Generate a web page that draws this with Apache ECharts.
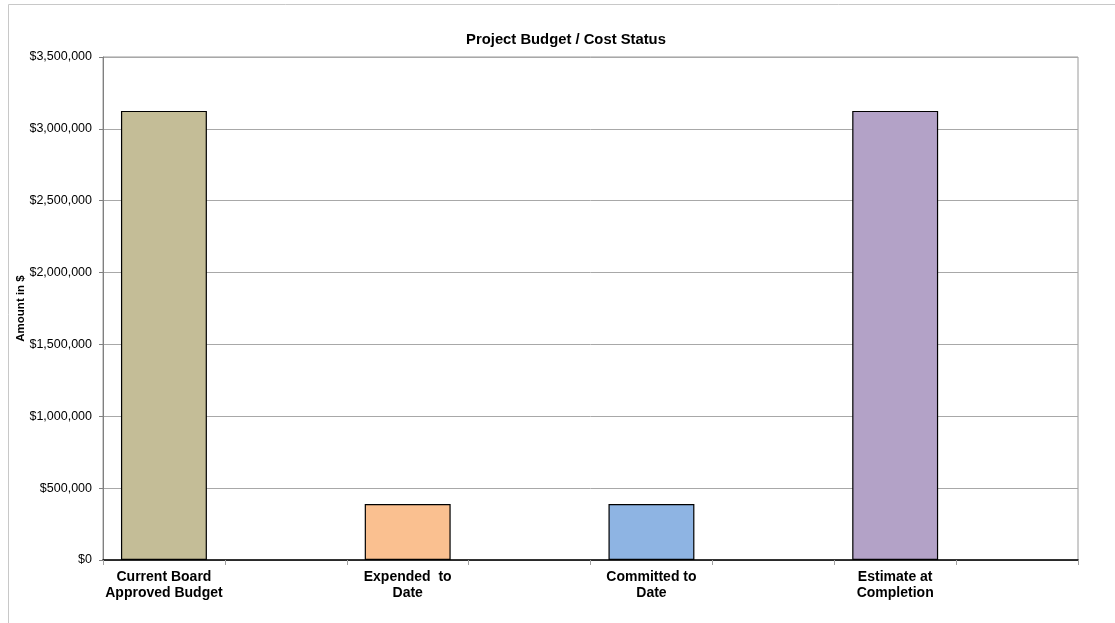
<!DOCTYPE html>
<html>
<head>
<meta charset="utf-8">
<script src="https://cdn.jsdelivr.net/npm/echarts@6/dist/echarts.min.js"></script>
<style>
html,body{margin:0;padding:0;background:#fff;}
#chart{width:1115px;height:623px;}
</style>
</head>
<body>
<div id="chart"></div>
<script>
const categories = ['Current Board\nApproved Budget', '', 'Expended  to\nDate', '', 'Committed to\nDate', '', 'Estimate at\nCompletion', ''];
const amounts = [3125000, null, 389000, null, 389000, null, 3125000, null];
const barColors = ['#C4BD97', '#ffffff', '#FAC090', '#ffffff', '#8EB4E3', '#ffffff', '#B3A2C7', '#ffffff'];
const yTicks = { min: 0, max: 3500000, interval: 500000 };

const chart = echarts.init(document.getElementById('chart'), null, { renderer: 'canvas' });
const fmt = v => '$' + v.toString().replace(/\B(?=(\d{3})+(?!\d))/g, ',');

chart.setOption({
  animation: false,
  backgroundColor: '#ffffff',
  graphic: [{
    type: 'rect', left: 6, top: 2, z: -10,
    shape: { width: 1107, height: 660 },
    style: { fill: 'none', stroke: '#c8c8c8', lineWidth: 1 }
  }],
  title: {
    text: 'Project Budget / Cost Status',
    left: 561, top: 27, textAlign: 'center',
    textStyle: { fontFamily: 'Liberation Sans, Arial', fontWeight: 'bold', fontSize: 14.8, color: '#000' }
  },
  grid: {
    left: 103, right: 37, top: 57, bottom: 63,
    show: true, borderColor: '#9a9a9a', borderWidth: 1, backgroundColor: 'transparent'
  },
  xAxis: {
    type: 'category',
    data: categories,
    axisLine: { lineStyle: { color: '#000', width: 1.5 } },
    axisTick: { show: true, interval: 0, length: 5, lineStyle: { color: '#a0a0a0' } },
    axisLabel: {
      interval: 0, margin: 9, color: '#000',
      fontFamily: 'Liberation Sans, Arial', fontWeight: 'bold', fontSize: 14, lineHeight: 16
    }
  },
  yAxis: {
    type: 'value',
    min: yTicks.min, max: yTicks.max, interval: yTicks.interval,
    name: 'Amount in $',
    nameLocation: 'middle',
    nameGap: 76,
    nameMoveOverlap: false,
    nameRotate: 90,
    nameTextStyle: { fontFamily: 'Liberation Sans, Arial', fontWeight: 'bold', fontSize: 11.5, color: '#000', padding: [0, 0, 0, 0] },
    axisLine: { show: true, lineStyle: { color: '#808080', width: 1 } },
    axisTick: { show: true, length: 4, lineStyle: { color: '#808080' } },
    axisLabel: {
      margin: 11, color: '#000',
      fontFamily: 'Liberation Sans, Arial', fontSize: 12.5,
      formatter: fmt
    },
    splitLine: { lineStyle: { color: '#a8a8a8', width: 1 } }
  },
  series: [{
    type: 'bar',
    data: amounts.map((v, i) => ({ value: v, itemStyle: { color: barColors[i] } })),
    barWidth: '70.5%',
    itemStyle: { borderColor: '#000', borderWidth: 1.2 }
  }]
});
</script>
</body>
</html>
